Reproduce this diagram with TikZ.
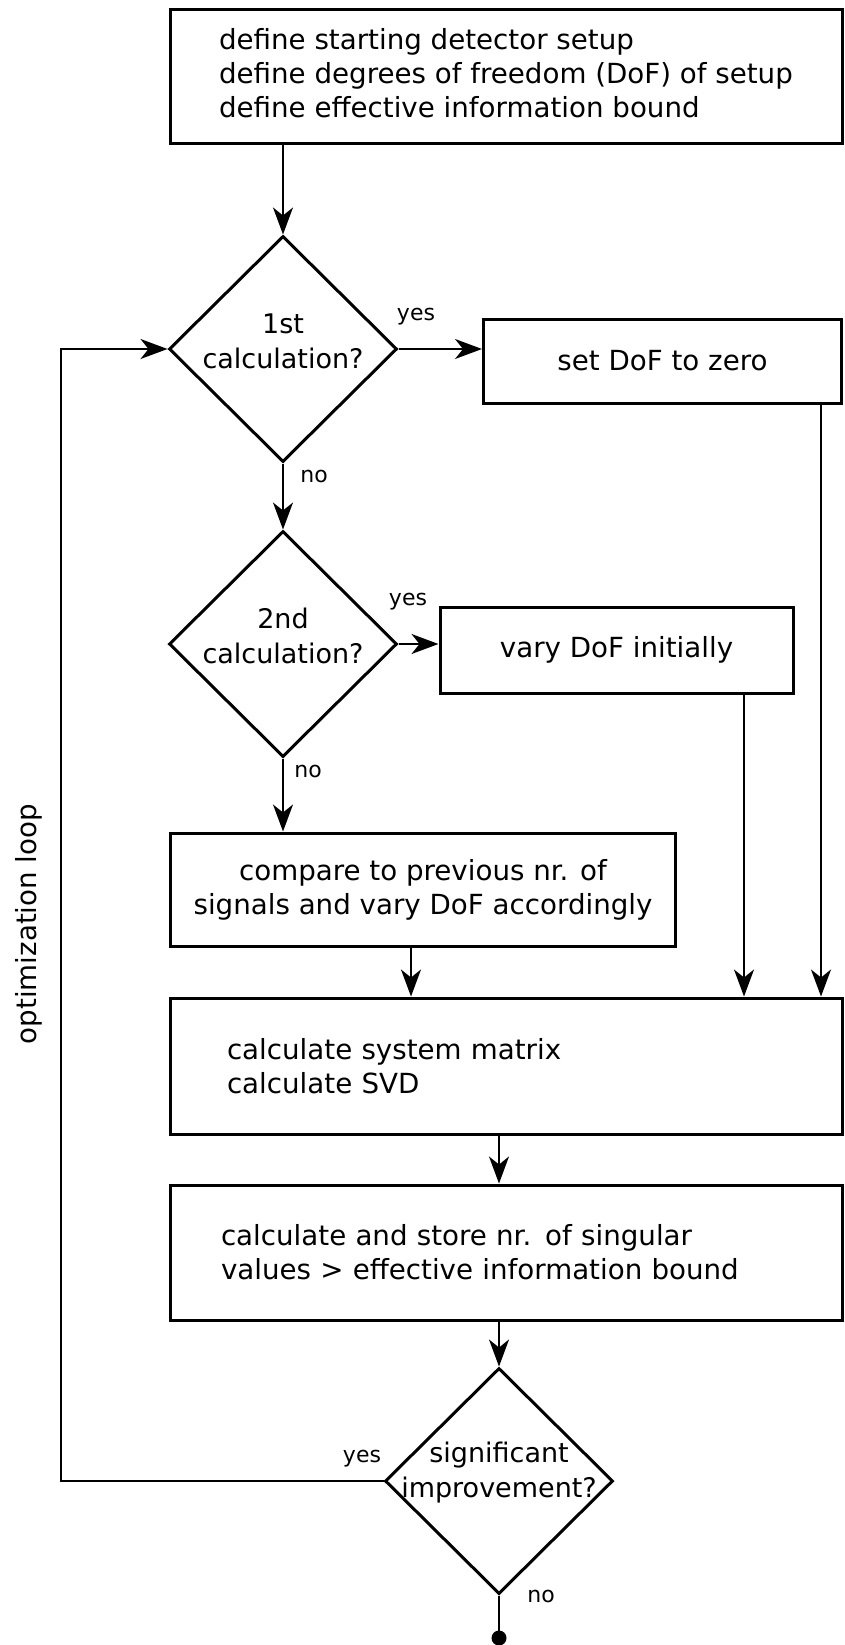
\documentclass[tikz,border=0pt]{standalone}
\usepackage{fontspec}
\setmainfont{DejaVu Sans}
\usetikzlibrary{shapes.geometric,arrows.meta}

\begin{document}
\begin{tikzpicture}[x=1pt,y=-1pt,
  box/.style={draw,line width=3pt,rectangle,inner sep=0pt,font=\fontsize{27.7}{34}\selectfont},
  decision/.style={draw,line width=3pt,diamond,inner sep=0pt,minimum width=228pt,minimum height=226pt},
  dtext/.style={align=center,yshift=8pt,font=\fontsize{27}{35}\selectfont},
  lbl/.style={font=\fontsize{22}{24}\selectfont},
  arr/.style={line width=1.7pt,-{Stealth[length=27pt,width=20pt,inset=8pt]}},
  line/.style={line width=1.7pt}]
\useasboundingbox (0,0) rectangle (845,1645);

\node[box,minimum width=672pt,minimum height=134pt,align=left] (setup) at (506,77)
  {define starting detector setup\\define degrees of freedom (DoF) of setup\\define effective information bound\\[-26pt]};
\node[decision,label={[dtext]center:{1st\\calculation?}}] (d1) at (283,349) {};
\node[box,minimum width=358pt,minimum height=84pt] (zero) at (662.5,361) {set DoF to zero};
\node[decision,label={[dtext]center:{2nd\\calculation?}}] (d2) at (283,644) {};
\node[box,minimum width=353pt,minimum height=86pt] (vary) at (616.5,650) {vary DoF initially};
\node[box,minimum width=505pt,minimum height=113pt,align=center] (compare) at (423,889.5)
  {compare to previous nr. of\\signals and vary DoF accordingly};
\node[box,minimum width=672pt,minimum height=136pt,text width=558pt,align=left] (calc) at (506,1066)
  {calculate system matrix\\calculate SVD};
\node[box,minimum width=672pt,minimum height=135pt,text width=570pt,align=left] (store) at (506,1252.5)
  {calculate and store nr. of singular\\values > effective information bound};
\node[decision,label={[dtext]center:{significant\\improvement?}}] (d3) at (499,1481) {};
\coordinate (dot) at (499,1638);
\fill (dot) circle (7.5pt);

% branch labels
\node[lbl] (yes1) at (416,317) {yes};
\node[lbl] (no1) at (314,476) {no};
\node[lbl] (yes2) at (408,602) {yes};
\node[lbl] (no2) at (308,771) {no};
\node[lbl] (yes3) at (362,1459) {yes};
\node[lbl] (no3) at (541,1596) {no};
\node[rotate=90,font=\fontsize{27.7}{34}\selectfont] (looplbl) at (29,924) {optimization loop};

% connectors
\coordinate (zx) at (821,0);
\coordinate (vx) at (744,0);
\coordinate (cx) at (411,0);
\coordinate (loopx) at (61,0);
\draw[arr] (setup.south -| d1.north) -- (d1.north);
\draw[arr] (d1.east) -- (d1.east -| zero.west);
\draw[arr] (zero.south -| zx) -- (calc.north -| zx);
\draw[arr] (d1.south) -- (d2.north);
\draw[arr] (d2.east) -- (d2.east -| vary.west);
\draw[arr] (vary.south -| vx) -- (calc.north -| vx);
\draw[arr] (d2.south) -- (d2.south |- compare.north);
\draw[arr] (compare.south -| cx) -- (calc.north -| cx);
\draw[arr] (calc.south -| d3.north) -- (store.north -| d3.north);
\draw[arr] (store.south -| d3.north) -- (d3.north);
\draw[line] (d3.south) -- (dot);
\draw[arr] (d3.west) -- (d3.west -| loopx) |- (d1.west);
\end{tikzpicture}
\end{document}
